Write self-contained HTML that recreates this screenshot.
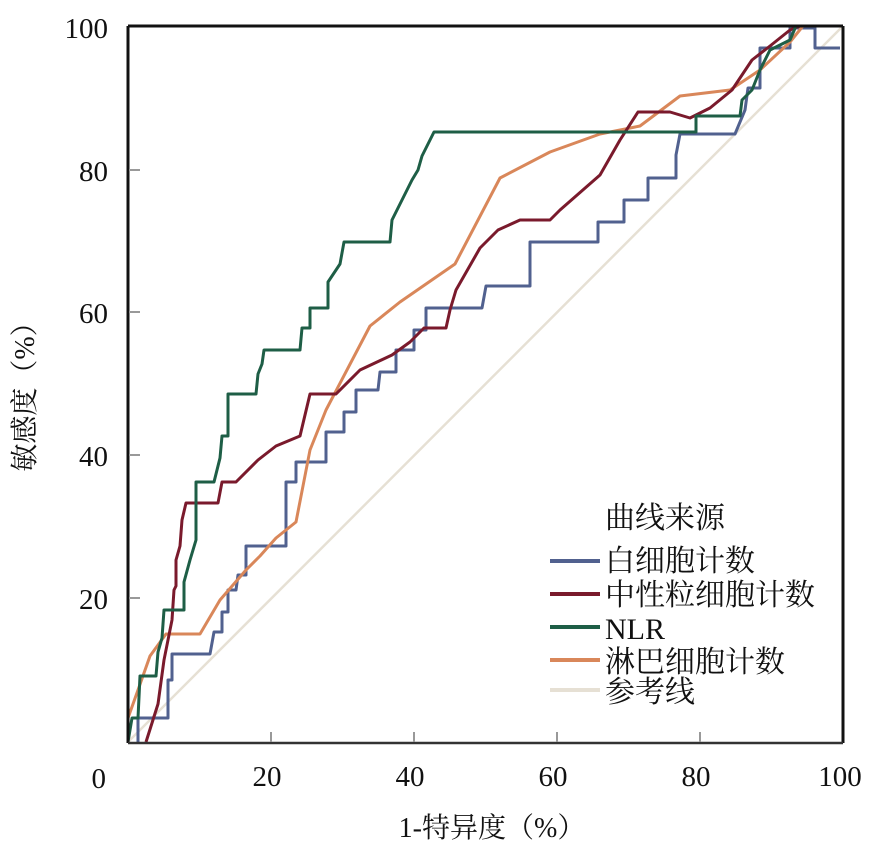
<!DOCTYPE html>
<html><head><meta charset="utf-8"><style>
body{margin:0;background:#fff}
svg{display:block}
text{font-family:"Liberation Serif","Noto Serif CJK SC",serif;fill:#111}
.cjk{font-family:"Liberation Serif","Noto Serif CJK SC","Noto Serif CJK JP",serif}
</style></head><body>
<svg width="886" height="850" viewBox="0 0 886 850" xmlns="http://www.w3.org/2000/svg">
<rect width="886" height="850" fill="#fff"/>
<line x1="128" y1="742" x2="843" y2="26" stroke="#e6e0d4" stroke-width="2.5"/>
<g fill="none" stroke-width="3" stroke-linejoin="round">
<polyline stroke="#51618f" points="138,742 138,718 168,718 168,680 172,680 172,654 210,654 214,632 222,632 222,612 228,612 228,590 236,590 238,575 246,575 246,546 286,546 286,482 296,482 296,462 326,462 326,432 344,432 344,412 356,412 356,390 378,390 380,372 396,372 396,350 414,350 414,330 426,330 426,308 482,308 486,286 530,286 530,242 598,242 598,222 624,222 624,200 648,200 648,178 676,178 676,155 680,134 735,134 745,110 748,88 760,88 760,48 790,48 790,28 815,28 815,48 840,48"/>
<polyline stroke="#d9875a" points="128,718 138,690 150,656 166,634 200,634 220,600 246,570 260,556 276,538 296,522 310,450 326,410 370,326 400,302 455,264 500,178 550,152 600,134 640,126 680,96 730,90 760,70 790,42 803,26"/>
<polyline stroke="#7a1a2c" points="146,742 158,704 164,660 168,640 172,620 174,590 176,586 176,560 180,546 182,520 186,503 218,503 222,482 236,482 258,460 276,446 300,436 310,394 336,394 360,370 392,355 410,342 424,328 446,328 450,310 456,290 480,248 498,230 520,220 550,220 560,210 600,175 620,140 638,112 670,112 690,118 710,108 732,90 752,60 770,46 790,30 800,26"/>
<polyline stroke="#1e5e46" points="128,742 132,718 138,718 140,676 156,676 158,652 162,638 164,610 184,610 184,582 190,560 196,540 196,482 214,482 220,458 222,436 228,436 228,394 256,394 258,374 262,364 264,350 300,350 302,328 310,328 310,308 328,308 328,282 340,264 344,242 390,242 392,220 412,180 418,170 422,156 430,140 434,132 696,132 696,116 740,116 742,100 752,90 760,70 770,50 790,40 796,26"/>
</g>
<line x1="128" y1="26" x2="843" y2="26" stroke="#111" stroke-width="3"/>
<line x1="128" y1="26" x2="128" y2="743" stroke="#111" stroke-width="3"/>
<line x1="843" y1="26" x2="843" y2="743" stroke="#111" stroke-width="3"/>
<line x1="128" y1="743" x2="843" y2="743" stroke="#333" stroke-width="2.5"/>
<g stroke="#999" stroke-width="2">
<line x1="129" y1="598" x2="140" y2="598"/><line x1="129" y1="455" x2="140" y2="455"/><line x1="129" y1="312" x2="140" y2="312"/><line x1="129" y1="170" x2="140" y2="170"/>
<line x1="271" y1="742" x2="271" y2="732"/><line x1="414" y1="742" x2="414" y2="732"/><line x1="557" y1="742" x2="557" y2="732"/><line x1="700" y1="742" x2="700" y2="732"/>
</g>
<g font-size="29" text-anchor="end">
<text x="108" y="38">100</text><text x="108" y="181">80</text><text x="108" y="323">60</text><text x="108" y="466">40</text><text x="108" y="609">20</text><text x="106" y="788">0</text>
</g>
<g font-size="29" text-anchor="middle">
<text x="267" y="786">20</text><text x="410" y="786">40</text><text x="553" y="786">60</text><text x="696" y="786">80</text><text x="840" y="786">100</text>
</g>
<g font-size="28" text-anchor="middle" class="cjk">
<text x="492" y="837">1-特异度（%）</text>
<text transform="translate(34,390) rotate(-90)">敏感度（%）</text>
</g>
<g font-size="30" class="cjk">
<text x="605" y="528">曲线来源</text>
<text x="605" y="571">白细胞计数</text>
<text x="605" y="605">中性粒细胞计数</text>
<text x="605" y="639">NLR</text>
<text x="605" y="672">淋巴细胞计数</text>
<text x="605" y="702">参考线</text>
</g>
<g stroke-width="4">
<line x1="550" y1="561" x2="600" y2="561" stroke="#51618f"/>
<line x1="550" y1="594" x2="600" y2="594" stroke="#7a1a2c"/>
<line x1="550" y1="627" x2="600" y2="627" stroke="#1e5e46"/>
<line x1="550" y1="660" x2="600" y2="660" stroke="#d9875a"/>
<line x1="550" y1="690" x2="600" y2="690" stroke="#e6e0d4"/>
</g>
</svg>
</body></html>
